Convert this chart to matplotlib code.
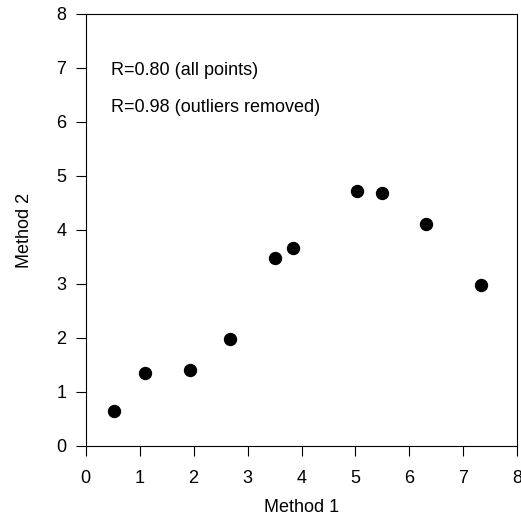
import matplotlib
matplotlib.use("Agg")
from matplotlib import pyplot as plt

plt.rcParams['font.family'] = ['Liberation Sans', 'DejaVu Sans']

# measurements from the two methods
method1 = [0.53, 1.10, 1.93, 2.67, 3.51, 3.84, 5.03, 5.50, 6.30, 7.33]
method2 = [0.65, 1.35, 1.41, 1.98, 3.48, 3.67, 4.73, 4.69, 4.11, 2.98]
ticks = [0, 1, 2, 3, 4, 5, 6, 7, 8]
notes = ["R=0.80 (all points)", "R=0.98 (outliers removed)"]

fig = plt.figure(figsize=(5.21, 5.18), dpi=100)
ax = fig.add_axes([0.1645, 0.139, 0.8285, 0.834])

ax.plot(method1, method2, 'o', color='black', markersize=8.6)

ax.set_xlim(0, 8)
ax.set_ylim(0, 8)
ax.set_xticks(ticks)
ax.set_yticks(ticks)
ax.tick_params(direction='out', length=7, width=0.8, labelsize=13, colors='black')
ax.tick_params(axis='x', pad=10)
ax.tick_params(axis='y', pad=7)
for s in ax.spines.values():
    s.set_linewidth(0.8)

ax.set_xlabel('Method 1', fontsize=13, labelpad=9)
ax.set_ylabel('Method 2', fontsize=13, labelpad=17)

# correlation notes
ax.text(0.46, 6.96, notes[0], fontsize=13, va='center', ha='left')
ax.text(0.46, 6.26, notes[1], fontsize=13, va='center', ha='left')

plt.savefig('out.png', dpi=100)
